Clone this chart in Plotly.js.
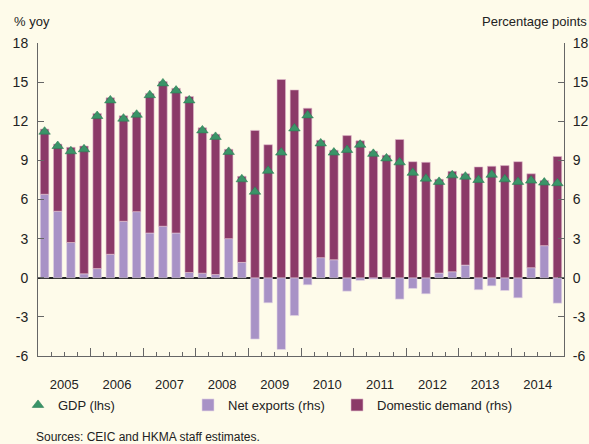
<!DOCTYPE html>
<html>
<head>
<meta charset="utf-8">
<script src="https://cdn.plot.ly/plotly-3.0.1.min.js"></script>
<style>
html,body{margin:0;padding:0;background:#fefbea;}
#chart{width:589px;height:444px;}
</style>
</head>
<body>
<div id="chart"></div>
<script>
// Quarterly data, 2005 Q1 – 2014 Q4
const years = ['2005','2006','2007','2008','2009','2010','2011','2012','2013','2014'];
const quarters = [0,1,2,3,4,5,6,7,8,9,10,11,12,13,14,15,16,17,18,19,20,21,22,23,24,25,26,27,28,29,30,31,32,33,34,35,36,37,38,39];
const gdp = [11.2,10.1,9.7,9.85,12.4,13.6,12.2,12.5,14.0,14.9,14.35,13.6,
             11.3,10.8,9.65,7.55,6.6,8.2,9.6,11.45,12.45,10.3,9.6,9.8,
             10.2,9.5,9.15,8.85,8.05,7.6,7.35,7.85,7.75,7.5,7.9,7.55,
             7.35,7.45,7.3,7.25];
const netExports = [6.4,5.1,2.7,0.3,0.7,1.8,4.33,5.07,3.43,3.95,3.43,0.4,
                    0.35,0.25,3.0,1.18,-4.7,-1.92,-5.5,-2.9,-0.54,1.54,1.38,-1.03,
                    -0.2,-0.1,-0.05,-1.64,-0.82,-1.23,0.36,0.46,0.97,-0.92,-0.62,-0.98,
                    -1.54,0.77,2.46,-1.95];
const domesticDemand = [5.0,5.15,7.3,9.8,11.9,12.0,8.1,7.6,10.7,11.1,11.1,13.5,
                        11.15,10.75,6.85,6.6,11.3,10.2,15.2,14.4,13.0,9.0,8.4,10.9,
                        10.5,9.7,9.4,10.6,8.9,8.85,7.2,7.7,7.0,8.5,8.55,8.6,
                        8.9,7.2,5.0,9.3];
const yTickVals = [-6,-3,0,3,6,9,12,15,18];
const yTickText = ['-6','-3','0','3','6','9','12','15','18'];

// tick positions: boundaries between quarters; year label sits on the middle boundary of each year
const quarterBounds = quarters.slice(0,-1).map(q=>q+0.5);
const quarterText = quarterBounds.map(b => ((b-1.5)%4===0) ? years[(b-1.5)/4] : '');
const yearBounds = years.slice(1).map((y,i)=>(i+1)*4-0.5);

const bg = '#fefbea';
const axisCol = '#666666';
const font = 'Liberation Sans, Arial, sans-serif';
const legY = -(405-356)/313;

const traces = [
  {type:'scatter', mode:'markers', name:'GDP (lhs)', x:quarters, y:gdp,
   xaxis:'x2', yaxis:'y2', legend:'legend',
   marker:{symbol:'triangle-up', size:10, color:'#3a9468', line:{color:'#2d7f55', width:0.6}}},
  {type:'bar', name:'Net exports (rhs)', x:quarters, y:netExports,
   xaxis:'x', yaxis:'y', legend:'legend2', width:0.65,
   marker:{color:'#a892c6', line:{color:'#e6d8e6', width:0.6}}},
  {type:'bar', name:'Domestic demand (rhs)', x:quarters, y:domesticDemand,
   xaxis:'x', yaxis:'y', legend:'legend3', width:0.65,
   marker:{color:'#8b3a68', line:{color:'#e0bccd', width:0.6}}}
];

const yCommon = {range:[-6,18], tickvals:yTickVals, ticktext:yTickText, ticks:'inside', ticklen:6,
  tickcolor:axisCol, showline:true, linecolor:axisCol, linewidth:1, showgrid:false,
  tickfont:{family:font, size:14, color:'#222'}, fixedrange:true};

const legCommon = {y:legY, yanchor:'middle', xanchor:'left', orientation:'h', bgcolor:'rgba(0,0,0,0)',
  font:{family:font, size:13, color:'#222'}, itemwidth:30};

const layout = {
  width:589, height:444,
  paper_bgcolor:bg, plot_bgcolor:bg,
  margin:{l:38, r:25, t:43, b:88},
  barmode:'relative',
  font:{family:font, size:13, color:'#222'},
  xaxis:{range:[-0.5,39.5], tickvals:quarterBounds, ticktext:quarterText, ticks:'inside', ticklen:4,
    tickcolor:axisCol, showline:true, linecolor:axisCol, linewidth:1, showgrid:false, zeroline:false,
    ticklabelstandoff:16, tickfont:{family:font, size:13, color:'#222'}},
  xaxis2:{range:[-0.5,39.5], overlaying:'x', anchor:'y2', side:'bottom', tickvals:yearBounds, ticks:'inside',
    ticklen:8, tickcolor:axisCol, showticklabels:false, showgrid:false, zeroline:false, showline:false},
  yaxis:Object.assign({}, yCommon, {side:'left', zeroline:true, zerolinecolor:'#222', zerolinewidth:1.5,
    layer:'above traces', ticklabelstandoff:6}),
  yaxis2:Object.assign({}, yCommon, {side:'right', overlaying:'y', anchor:'x2', zeroline:false, ticklabelstandoff:5}),
  showlegend:true,
  legend:Object.assign({}, legCommon, {x:(18-38)/526}),
  legend2:Object.assign({}, legCommon, {x:(188-38)/526}),
  legend3:Object.assign({}, legCommon, {x:(337-38)/526}),
  annotations:[
    {text:'% yoy', xref:'paper', yref:'paper', x:-26/526, xanchor:'left', y:1+21/313, yanchor:'middle',
     showarrow:false, font:{family:font, size:13, color:'#222'}},
    {text:'Percentage points', xref:'paper', yref:'paper', x:1+25/526, xanchor:'right', y:1+21/313, yanchor:'middle',
     showarrow:false, font:{family:font, size:13, color:'#222'}},
    {text:'Sources: CEIC and HKMA staff estimates.', xref:'paper', yref:'paper', x:-4/526, xanchor:'left',
     y:-(437-356)/313, yanchor:'middle', showarrow:false, font:{family:font, size:12, color:'#222'}}
  ]
};

Plotly.newPlot('chart', traces, layout, {staticPlot:true, displayModeBar:false});
</script>
</body>
</html>
